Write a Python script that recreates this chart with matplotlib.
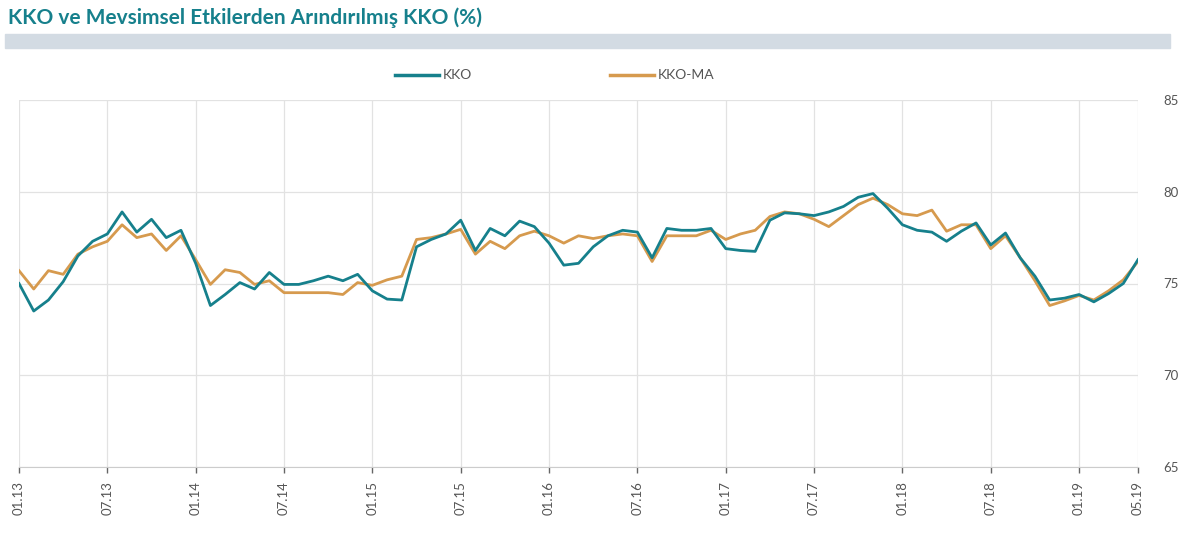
import numpy as np
import matplotlib
matplotlib.use("Agg")
import matplotlib.pyplot as plt
from matplotlib.patches import Rectangle

# =============================================================================
# Data (monthly, 01.13 - 05.19)
# =============================================================================

months = [f"{m:02d}.{y:02d}" for y in range(13, 20) for m in range(1, 13)][:77]

kko = [75.0, 73.5, 74.1, 75.1, 76.5, 77.3, 77.7, 78.9, 77.8, 78.5, 77.5, 77.9,
       76.1, 73.8, 74.4, 75.05, 74.7, 75.6, 74.95, 74.95, 75.15, 75.4, 75.15, 75.5,
       74.6, 74.15, 74.1, 77.0, 77.4, 77.7, 78.45, 76.8, 78.0, 77.6, 78.4, 78.1,
       77.2, 76.0, 76.1, 77.0, 77.6, 77.9, 77.8, 76.4, 78.0, 77.9, 77.9, 78.0,
       76.9, 76.8, 76.75, 78.45, 78.85, 78.8, 78.7, 78.9, 79.2, 79.7, 79.9, 79.1,
       78.2, 77.9, 77.8, 77.3, 77.85, 78.3, 77.1, 77.75, 76.4, 75.4, 74.1, 74.2,
       74.4, 74.0, 74.45, 75.0, 76.3]

kko_ma = [75.7, 74.7, 75.7, 75.5, 76.6, 77.0, 77.3, 78.2, 77.5, 77.7, 76.8, 77.6,
          76.3, 74.95, 75.75, 75.6, 74.95, 75.15, 74.5, 74.5, 74.5, 74.5, 74.4, 75.05,
          74.9, 75.2, 75.4, 77.4, 77.5, 77.7, 77.95, 76.6, 77.3, 76.9, 77.6, 77.85,
          77.6, 77.2, 77.6, 77.45, 77.6, 77.7, 77.6, 76.2, 77.6, 77.6, 77.6, 77.9,
          77.4, 77.7, 77.9, 78.65, 78.9, 78.8, 78.5, 78.1, 78.7, 79.3, 79.65, 79.3,
          78.8, 78.7, 79.0, 77.85, 78.2, 78.2, 76.9, 77.6, 76.4, 75.15, 73.8, 74.05,
          74.35, 74.1, 74.6, 75.2, 76.2]

tick_idx = list(range(0, 73, 6)) + [76]
tick_labels = [months[i] for i in tick_idx]
y_ticks = [65, 70, 75, 80, 85]

TEAL   = "#16808c"
ORANGE = "#d69a4e"
GRID   = "#e2e2e2"
TXT    = "#555555"

plt.rcParams["font.family"] = ["Lato", "DejaVu Sans"]

# =============================================================================
# Figure
# =============================================================================

fig = plt.figure(figsize=(12, 5.52), dpi=100)
W, H = 1200, 552

def fx(px):
    return px / W

def fy(py):
    return 1 - py / H

# title + grey band
fig.text(fx(8), fy(18), "KKO ve Mevsimsel Etkilerden Arındırılmış KKO (%)",
         color=TEAL, fontsize=15, fontweight="bold", va="center", ha="left")
fig.patches.append(Rectangle((fx(5), fy(48)), fx(1165), 14 / H,
                             transform=fig.transFigure, color="#d3dbe3", zorder=0))

ax = fig.add_axes([fx(19), fy(467), fx(1138 - 19), (467 - 100) / H])
x = np.arange(len(kko))
ax.plot(x, kko, color=TEAL, lw=2.0, label="KKO", zorder=3)
ax.plot(x, kko_ma, color=ORANGE, lw=2.0, label="KKO-MA", zorder=2)

ax.set_xlim(0, 76)
ax.set_ylim(65, 85)
ax.set_xticks(tick_idx)
ax.set_xticklabels(tick_labels, rotation=90, fontsize=9.5, color=TXT)
ax.set_yticks(y_ticks)
ax.set_yticklabels([str(v) for v in y_ticks], fontsize=9.5, color=TXT)
ax.yaxis.tick_right()
ax.tick_params(axis="y", length=0, pad=18)
ax.tick_params(axis="x", length=4, width=1, color="#666666", pad=6)

ax.grid(True, color=GRID, lw=0.9)
ax.set_axisbelow(True)
for side in ["top", "left", "right"]:
    ax.spines[side].set_visible(False)
ax.spines["bottom"].set_color("#cccccc")

# legend drawn by hand above the plot
for x0, col, lab in [(395, TEAL, "KKO"), (610, ORANGE, "KKO-MA")]:
    fig.add_artist(plt.Line2D([fx(x0), fx(x0 + 44)], [fy(75), fy(75)],
                              color=col, lw=2.5, transform=fig.transFigure))
    fig.text(fx(x0 + 48), fy(75), lab, fontsize=10, color=TXT, va="center", ha="left")

fig.savefig("out.png", dpi=100)
